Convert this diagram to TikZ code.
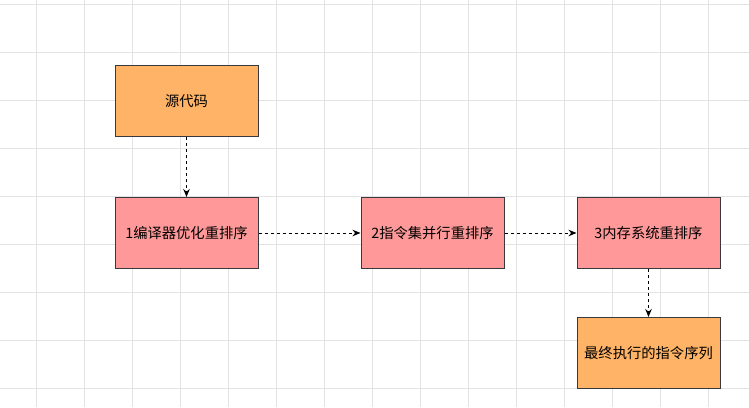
\documentclass[tikz,border=0pt]{standalone}
\usepackage{fontspec}
\setmainfont{Noto Sans CJK SC}
\usetikzlibrary{positioning,arrows.meta}
\definecolor{srcorange}{HTML}{FFB366}
\definecolor{stagepink}{HTML}{FF9999}
\definecolor{boxborder}{HTML}{36393D}
\definecolor{gridgray}{HTML}{E3E3E3}

\begin{document}
\begin{tikzpicture}[
  x=1pt, y=-1pt,
  node distance=60pt and 102pt,
  gridline/.style={draw=gridgray, line width=0.8pt},
  box/.style={draw=boxborder, line width=1pt, minimum width=143pt, minimum height=71pt, inner sep=0pt, align=center, font=\fontsize{14.3}{16}\selectfont},
  src/.style={box, fill=srcorange},
  stage/.style={box, fill=stagepink},
  arr/.style={-{Stealth[length=8pt,width=6.5pt]}, line width=1pt, dash pattern=on 3pt off 3pt}
]
\useasboundingbox (0,0) rectangle (749,407);
\fill[white] (0,0) rectangle (749,407);
% background grid
\foreach \x in {36,84,...,708}
  \draw[gridline] (\x,0) -- (\x,407);
\foreach \y in {4,52,...,388}
  \draw[gridline] (0,\y) -- (749,\y);

\node[src] (source) at (186.5,101) {源代码};
\node[stage, below=60pt of source] (compiler) {1编译器优化重排序};
\node[stage, right=102pt of compiler] (instr) {2指令集并行重排序};
\node[stage, right=72pt of instr] (memory) {3内存系统重排序};
\node[src, below=48pt of memory] (final) {最终执行的指令序列};

\draw[arr] (source) -- (compiler);
\draw[arr] (compiler) -- (instr);
\draw[arr] (instr) -- (memory);
\draw[arr] (memory) -- (final);
\end{tikzpicture}
\end{document}
